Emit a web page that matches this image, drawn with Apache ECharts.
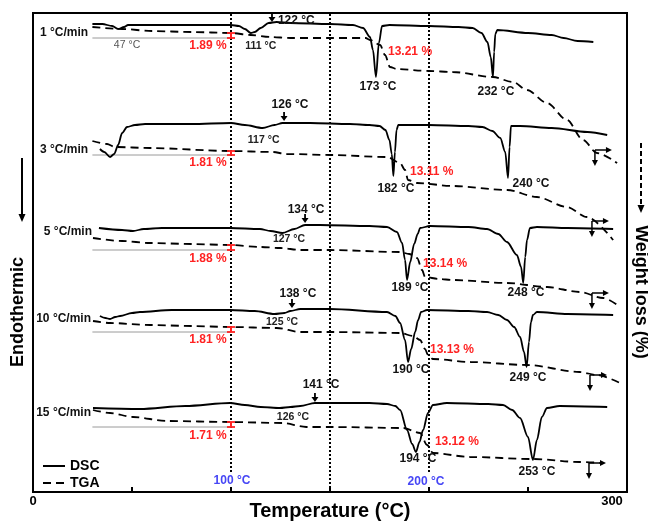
<!DOCTYPE html>
<html>
<head>
<meta charset="utf-8">
<script src="https://cdn.jsdelivr.net/npm/echarts@6/dist/echarts.min.js"></script>
<style>
html,body{margin:0;padding:0;background:#fff;}
#chart{width:648px;height:522px;}
</style>
</head>
<body>
<div id="chart"></div>
<script>
// ---------------- DATA (temperature °C, signal in arbitrary stacked units) ----------------
const xTickLabels = {0: '0', 300: '300'};
const rateLabels = ['1 °C/min', '3 °C/min', '5 °C/min', '10 °C/min', '15 °C/min'];

const dsc1 = [[30,468],[35,468],[40,466],[43,463],[46,465],[48,467],[60,467],[80,467],[100,467],[104,466],[107,463],[110,459],[112,460],[115,464],[119,469],[123,470],[130,469],[150,468],[161.6,467],[166.7,464],[170.2,455],[171.7,442],[173.2,415],[174.7,449],[176.3,466],[180,467],[200,466],[215,465],[222,464],[226.5,459],[229.5,450],[231.2,435],[232.3,415],[232.9,440],[233.5,458],[234.5,462],[250,459],[262,457],[268,454],[275,451],[283,450]];
const tga1 = [[30,465],[45,463],[60,461],[80,460],[100,459],[110,457],[120,455],[130,454],[150,454],[168,454],[170.2,452],[175.3,447],[177.8,437],[180.3,425],[183.8,423],[200,421],[212,420],[232.3,415],[242.4,410],[249.5,402],[259.6,389],[269.7,372],[277.8,352],[284.8,339],[295,329]];

const dsc2 = [[33.8,343],[36,340],[38.9,335],[41,338],[43,347],[45,359],[47.5,365],[51.5,367],[56.6,368],[80,368],[100,369],[107,367],[116,364],[122,367],[126,369],[140,369],[160,368],[170,367],[175,366],[178,362],[180,352],[181.2,338],[182,316],[182.8,340],[183.6,362],[184.5,367],[200,367],[220,366],[227,365],[232,361],[236,354],[238.5,340],[239.9,314],[240.7,345],[241.4,366],[246,366],[262,364],[280,360],[290,357]];
const tga2 = [[30,351],[37.4,348],[41.4,345],[59,344],[99.5,341],[121,340],[128,338],[150,337],[178.8,335],[185.4,329],[187.9,322],[189.4,312],[194,309],[212,306],[239.4,302],[254.5,295],[269.7,285],[279.8,275],[293,252]];

const dsc3 = [[33.3,264],[45,262],[50.5,261],[56,263],[65,264],[99.5,264],[114.6,263],[120,261],[126,259],[132,263],[137.4,267],[145,267],[170,266],[178.8,265],[183.8,260],[186.4,249],[187.9,232],[188.9,212],[190.5,230],[192.5,248],[194.3,258],[195.5,264],[200.5,266],[220,265],[229.3,263],[235,258],[239.4,250],[244.4,237],[246.5,225],[247.6,209],[248.6,235],[249.5,252],[251,264],[254.5,265],[270,264],[293,263]];
const tga3 = [[30.3,254],[45,251],[59,249],[80,248],[99.5,247],[114.6,245],[125,244],[135,242],[150,242],[185.4,240],[190,238],[194,234],[196.5,222],[198,215],[205,213],[212,212],[239.4,209],[259.6,205],[276,200],[288,194],[296.5,185]];

const dsc4 = [[33.8,176],[36.5,174],[38.9,173],[41.5,175],[44,176],[50,179],[54,180],[70,182],[99.5,182],[112,181],[122,178],[127,179],[130,181],[135,183],[150,183],[178.8,180],[183,176],[185.4,169],[187.9,152],[189.4,130],[191,143],[193,160],[194.5,172],[196,180],[199,182],[220,181],[229.3,180],[235,177],[239.4,172],[243,165],[246,155],[248,140],[249.3,125],[250.5,150],[251.5,170],[252.5,177],[254.5,180],[270,178],[293,177]];
const tga4 = [[30.3,171],[38.9,169],[59,167],[80,166],[99.5,165],[123,164],[135,160],[150,160],[185.4,159],[192,156],[195.5,152],[198,143],[199.5,137],[202,133],[221,130],[249.5,127],[276,120],[284.8,117],[296.5,109]];

const dsc5 = [[30.3,84],[54,83],[77,86],[99.5,89],[107,87],[115,85],[124.7,84],[130,85],[135,86],[142.4,89],[150,89],[170,89],[178.8,88],[183,86],[185.4,82],[188.9,62],[191.5,48],[193.4,40],[195.2,50],[197,62],[199.5,79],[202,87],[209,89],[230,88],[237.4,87],[242,82],[246,74],[250,55],[252.5,32],[254.5,52],[257,75],[259.6,84],[266,86],[290,85]];
const tga5 = [[30.3,82],[38.9,79],[50.5,75],[67.7,71],[99.5,70],[126,69],[138,65],[150,65],[186.9,64],[195.5,59],[199,47],[202,39],[220.7,35],[252.5,33],[276,30],[288,29]];

// TGA level at 100 °C and plateau level after first loss
const tgaAt100 = [459, 341, 247, 165, 70];
const plateau = [454, 337, 242, 160, 65];
const firstLoss = ['1.89 %', '1.81 %', '1.88 %', '1.81 %', '1.71 %'];
const firstLossAnchor = [[88.4,446],[88.4,329],[88.4,233],[88.4,152],[88.4,56]];
const secondLoss = ['13.21 %', '13.11 %', '13.14 %', '13.13 %', '13.12 %'];
const secondLossAnchor = [[179.3,440],[190.4,320],[197,228],[200.5,142],[203,50]];
const rateAnchor = [[27.8,459],[27.8,342],[29.8,260],[29.3,173],[29.3,79]];

const peakLabels = [[174.2,405,'173 °C'],[233.8,400,'232 °C'],[183.3,303,'182 °C'],[251.5,308,'240 °C'],[190.4,204,'189 °C'],[249,199,'248 °C'],[190.9,122,'190 °C'],[250,114,'249 °C'],[194.4,33,'194 °C'],[254.5,20,'253 °C']];
const onsetLabels = [[133,471,'122 °C'],[129.8,387,'126 °C'],[137.9,282,'134 °C'],[133.8,198,'138 °C'],[145.5,107,'141 °C']];
const onsetArrows = [[120.7,470],[126.8,371],[137.4,269],[130.8,184],[142.4,90]];
const dipLabels = [[115,446,'111 °C'],[116.5,352,'117 °C'],[129.3,253,'127 °C'],[125.8,170,'125 °C'],[131.3,75,'126 °C']];
const minorLabels = [[47.5,447,'47 °C']];
const refTemps = [100, 150, 200];
const refLabels = [[100.5,11,'100 °C'],[198.5,10,'200 °C']];
const endArrows = [[283.8,342],[282.3,271],[282.3,199],[281.3,117],[280.8,29]];

// ---------------- CHART ----------------
const FONT = '"Liberation Sans", Arial, sans-serif';
const RED = '#ff2222';
const BLUE = '#4646f5';
const chart = echarts.init(document.getElementById('chart'), null, {renderer: 'canvas'});

function curve(name, data, dashed) {
  return {
    type: 'line', name: name, data: data, symbol: 'none', smooth: 0.3, smoothMonotone: 'x',
    silent: true, z: 3,
    lineStyle: {color: '#000', width: 1.8, type: dashed ? [8, 5] : 'solid'},
    itemStyle: {color: '#000'}
  };
}
function texts(items, style) {
  return {
    type: 'custom', coordinateSystem: 'cartesian2d', silent: true, z: 10,
    data: items.map(d => [d[0], d[1]]),
    renderItem: function (params, api) {
      const p = api.coord([api.value(0), api.value(1)]);
      return {type: 'text', x: p[0], y: p[1], style: Object.assign({text: items[params.dataIndex][2]}, style)};
    }
  };
}

const series = [];
// dotted reference lines
refTemps.forEach(t => {
  series.push({type: 'line', name: 'ref', data: [[t, t === 150 ? 0 : 20], [t, 479]], symbol: 'none', silent: true, z: 1,
    lineStyle: {color: '#000', width: 2, type: [2, 2]}});
});
// plateau baselines
plateau.forEach(v => {
  series.push({type: 'line', name: 'base', data: [[30, v], [100, v]], symbol: 'none', silent: true, z: 1,
    lineStyle: {color: '#9a9a9a', width: 1}});
});
[dsc1, dsc2, dsc3, dsc4, dsc5].forEach(d => series.push(curve('DSC', d, false)));
[tga1, tga2, tga3, tga4, tga5].forEach(d => series.push(curve('TGA', d, true)));

// red weight-step markers
series.push({
  type: 'custom', coordinateSystem: 'cartesian2d', silent: true, z: 8,
  data: tgaAt100.map((h, i) => [100, h, plateau[i]]),
  encode: {x: 0, y: [1, 2]},
  renderItem: function (params, api) {
    const a = api.coord([api.value(0), api.value(1)]);
    const b = api.coord([api.value(0), api.value(2)]);
    return {type: 'group', children: [
      {type: 'line', shape: {x1: a[0], y1: a[1], x2: b[0], y2: b[1]}, style: {stroke: RED, lineWidth: 2}},
      {type: 'line', shape: {x1: a[0] - 4, y1: a[1], x2: a[0] + 4, y2: a[1]}, style: {stroke: RED, lineWidth: 1.8}},
      {type: 'line', shape: {x1: b[0] - 4, y1: b[1], x2: b[0] + 4, y2: b[1]}, style: {stroke: RED, lineWidth: 1.8}}
    ]};
  }
});
// onset arrows (down)
series.push({
  type: 'custom', coordinateSystem: 'cartesian2d', silent: true, z: 8,
  data: onsetArrows,
  renderItem: function (params, api) {
    const p = api.coord([api.value(0), api.value(1)]);
    return {type: 'group', children: [
      {type: 'line', shape: {x1: p[0], y1: p[1] - 9, x2: p[0], y2: p[1] - 4}, style: {stroke: '#000', lineWidth: 1.8}},
      {type: 'polygon', shape: {points: [[p[0] - 3.5, p[1] - 5], [p[0] + 3.5, p[1] - 5], [p[0], p[1]]]}, style: {fill: '#000'}}
    ]};
  }
});
// end-of-curve corner arrows
series.push({
  type: 'custom', coordinateSystem: 'cartesian2d', silent: true, z: 8,
  data: endArrows,
  renderItem: function (params, api) {
    const p = api.coord([api.value(0), api.value(1)]);
    const x = p[0], y = p[1];
    return {type: 'group', children: [
      {type: 'line', shape: {x1: x, y1: y, x2: x, y2: y + 11}, style: {stroke: '#000', lineWidth: 1.5}},
      {type: 'polygon', shape: {points: [[x - 3, y + 10], [x + 3, y + 10], [x, y + 16]]}, style: {fill: '#000'}},
      {type: 'line', shape: {x1: x, y1: y, x2: x + 12, y2: y}, style: {stroke: '#000', lineWidth: 1.5}},
      {type: 'polygon', shape: {points: [[x + 11, y - 3], [x + 11, y + 3], [x + 17, y]]}, style: {fill: '#000'}}
    ]};
  }
});
// text annotations
series.push(texts(rateAnchor.map((a, i) => [a[0], a[1], rateLabels[i]]),
  {font: 'bold 12px ' + FONT, fill: '#111', align: 'right', verticalAlign: 'middle'}));
series.push(texts(peakLabels, {font: 'bold 12px ' + FONT, fill: '#111', align: 'center', verticalAlign: 'middle'}));
series.push(texts(onsetLabels, {font: 'bold 12px ' + FONT, fill: '#111', align: 'center', verticalAlign: 'middle'}));
series.push(texts(dipLabels, {font: 'bold 10.5px ' + FONT, fill: '#222', align: 'center', verticalAlign: 'middle'}));
series.push(texts(minorLabels, {font: '10.5px ' + FONT, fill: '#555', align: 'center', verticalAlign: 'middle'}));
series.push(texts(firstLossAnchor.map((a, i) => [a[0], a[1], firstLoss[i]]),
  {font: 'bold 12px ' + FONT, fill: RED, align: 'center', verticalAlign: 'middle'}));
series.push(texts(secondLossAnchor.map((a, i) => [a[0], a[1], secondLoss[i]]),
  {font: 'bold 12px ' + FONT, fill: RED, align: 'left', verticalAlign: 'middle'}));
series.push(texts(refLabels, {font: 'bold 12px ' + FONT, fill: BLUE, align: 'center', verticalAlign: 'middle'}));

const option = {
  animation: false,
  backgroundColor: '#fff',
  grid: {left: 33, right: 21, top: 13, bottom: 30, show: true, borderColor: '#000', borderWidth: 2,
    backgroundColor: 'transparent', containLabel: false, outerBoundsMode: 'none'},
  xAxis: {
    type: 'value', min: 0, max: 300, interval: 50,
    name: 'Temperature (°C)', nameLocation: 'middle', nameGap: 19, nameMoveOverlap: false,
    nameTextStyle: {fontFamily: FONT, fontWeight: 'bold', fontSize: 20, color: '#000', verticalAlign: 'middle'},
    axisLine: {show: false},
    axisTick: {show: true, inside: true, length: 5, lineStyle: {color: '#000', width: 2}},
    splitLine: {show: false},
    axisLabel: {
      margin: 3, color: '#000', fontFamily: FONT, fontWeight: 'bold', fontSize: 13,
      formatter: function (v) {
        if (v === 300) return '{e|' + xTickLabels[300] + '}';
        return xTickLabels[v] !== undefined ? xTickLabels[v] : '';
      },
      rich: {e: {fontFamily: FONT, fontWeight: 'bold', fontSize: 13, color: '#000', padding: [0, 30, 0, 0]}}
    }
  },
  yAxis: {type: 'value', min: 0, max: 479, show: false},
  legend: {
    data: ['DSC', 'TGA'], orient: 'vertical', left: 37, top: 454, itemWidth: 22, itemHeight: 12, itemGap: 3,
    selectedMode: false, itemStyle: {opacity: 0},
    textStyle: {fontFamily: FONT, fontWeight: 'bold', fontSize: 14, color: '#000'}
  },
  graphic: [
    {type: 'text', x: 18, y: 312, rotation: Math.PI / 2,
      style: {text: 'Endothermic', font: 'bold 18px ' + FONT, fill: '#000', align: 'center', verticalAlign: 'middle'}},
    {type: 'line', shape: {x1: 22, y1: 158, x2: 22, y2: 215}, style: {stroke: '#000', lineWidth: 2}},
    {type: 'polygon', shape: {points: [[18.5, 214], [25.5, 214], [22, 222]]}, style: {fill: '#000'}},
    {type: 'text', x: 641, y: 292, rotation: -Math.PI / 2,
      style: {text: 'Weight loss (%)', font: 'bold 18px ' + FONT, fill: '#000', align: 'center', verticalAlign: 'middle'}},
    {type: 'line', shape: {x1: 641, y1: 143, x2: 641, y2: 206}, style: {stroke: '#000', lineWidth: 2, lineDash: [5, 3]}},
    {type: 'polygon', shape: {points: [[637.5, 205], [644.5, 205], [641, 213]]}, style: {fill: '#000'}}
  ],
  series: series
};
chart.setOption(option);
</script>
</body>
</html>
